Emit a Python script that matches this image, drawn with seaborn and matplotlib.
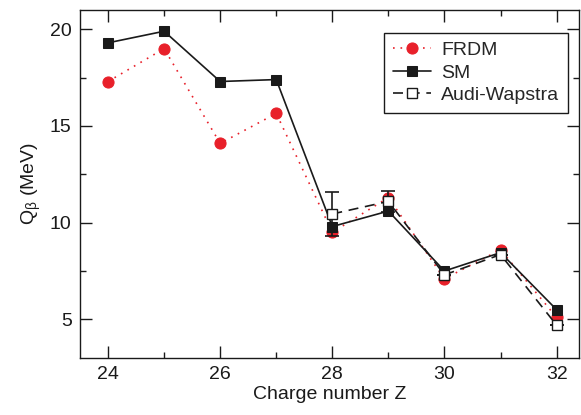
import matplotlib
matplotlib.use("Agg")
import matplotlib.pyplot as plt
import seaborn as sns
import pandas as pd

Z = [24, 25, 26, 27, 28, 29, 30, 31, 32]
frdm = [17.3, 19.0, 14.1, 15.65, 9.5, 11.3, 7.1, 8.6, 5.1]
sm = [19.3, 19.9, 17.3, 17.4, 9.8, 10.6, 7.5, 8.45, 5.5]
aw_Z = [28, 29, 30, 31, 32]
aw = [10.45, 11.1, 7.3, 8.35, 4.7]
aw_err = [1.15, 0.55, 0.0, 0.0, 0.0]

sns.set_theme(style="ticks")
plt.rcParams['font.family'] = ['Liberation Sans', 'DejaVu Sans']
plt.rcParams['mathtext.fontset'] = 'custom'
plt.rcParams['mathtext.rm'] = 'Liberation Sans'
plt.rcParams['mathtext.it'] = 'Liberation Sans'

fig = plt.figure(figsize=(5.81, 4.15), dpi=100)
ax = fig.add_axes([0.1377, 0.1373, 0.8589, 0.8387])

red = '#E8202A'
dark = '#1a1a1a'
sns.lineplot(x=Z, y=frdm, ax=ax, color=red, linestyle=(0, (1, 3.5)), linewidth=1.2,
             marker='o', markersize=8, markeredgecolor=red, markerfacecolor=red,
             label='FRDM', zorder=2)
sns.lineplot(x=Z, y=sm, ax=ax, color=dark, linestyle='-', linewidth=1.2,
             marker='s', markersize=6.5, markeredgecolor=dark, markerfacecolor=dark,
             label='SM', zorder=3)
ax.errorbar(aw_Z, aw, yerr=aw_err, fmt='none', ecolor=dark, elinewidth=1.2,
            capsize=5, capthick=1.2, zorder=3.5)
sns.lineplot(x=aw_Z, y=aw, ax=ax, color=dark, linestyle=(0, (6, 4)), linewidth=1.2,
             marker='s', markersize=6.5, markeredgecolor=dark, markerfacecolor='white',
             markeredgewidth=1.0, label='Audi-Wapstra', zorder=4)

ax.set_xlim(23.5, 32.4)
ax.set_ylim(3, 21)
ax.set_xticks([24, 26, 28, 30, 32])
ax.set_xticks([25, 27, 29, 31], minor=True)
ax.set_yticks([5, 10, 15, 20])
ax.set_yticks([7.5, 12.5, 17.5], minor=True)
ax.tick_params(which='both', direction='in', top=True, right=True, labelsize=14,
               color=dark, labelcolor=dark, width=1.0)
ax.tick_params(which='major', length=8.5, pad=6)
ax.tick_params(which='minor', length=4.5)
for s in ax.spines.values():
    s.set_color(dark)
    s.set_linewidth(1.0)

ax.set_xlabel('Charge number Z', fontsize=14, color=dark, labelpad=2)
ax.set_ylabel(r'Q$_\beta$ (MeV)', fontsize=14, color=dark, labelpad=5)

leg = ax.legend(loc='upper right', bbox_to_anchor=(0.978, 0.934), borderaxespad=0,
                fontsize=14, frameon=True, fancybox=False, edgecolor=dark, framealpha=1,
                handlelength=2.0, handletextpad=0.5, borderpad=0.45, labelspacing=0.25)
leg.get_frame().set_linewidth(1.0)

fig.savefig('out.png', dpi=100)
